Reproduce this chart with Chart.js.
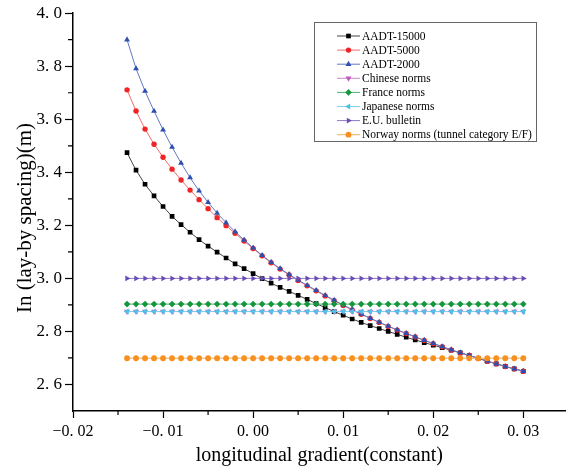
<!DOCTYPE html>
<html>
<head>
<meta charset="utf-8">
<script src="https://cdn.jsdelivr.net/npm/chart.js@4.4.0/dist/chart.umd.min.js"></script>
<style>
  html, body { margin: 0; padding: 0; background: #fff; }
  #wrap { width: 569px; height: 473px; position: relative; }
</style>
</head>
<body>
<div id="wrap"><canvas id="chart"></canvas></div>
<script>
// longitudinal gradient values (x)
const gradient = [
  -0.014, -0.013, -0.012, -0.011, -0.010, -0.009, -0.008, -0.007, -0.006, -0.005,
  -0.004, -0.003, -0.002, -0.001, 0.000, 0.001, 0.002, 0.003, 0.004, 0.005,
  0.006, 0.007, 0.008, 0.009, 0.010, 0.011, 0.012, 0.013, 0.014, 0.015,
  0.016, 0.017, 0.018, 0.019, 0.020, 0.021, 0.022, 0.023, 0.024, 0.025,
  0.026, 0.027, 0.028, 0.029, 0.030
];

const aadt15000 = [
  3.474, 3.408, 3.355, 3.311, 3.271, 3.234, 3.203, 3.174, 3.146, 3.122,
  3.099, 3.077, 3.055, 3.037, 3.018, 2.999, 2.982, 2.966, 2.951, 2.936,
  2.921, 2.905, 2.890, 2.875, 2.861, 2.847, 2.834, 2.822, 2.811, 2.800,
  2.789, 2.778, 2.768, 2.758, 2.748, 2.739, 2.729, 2.719, 2.709, 2.699,
  2.688, 2.678, 2.668, 2.659, 2.650
];

const aadt5000 = [
  3.711, 3.631, 3.563, 3.506, 3.457, 3.412, 3.371, 3.333, 3.297, 3.263,
  3.229, 3.199, 3.170, 3.141, 3.113, 3.085, 3.059, 3.035, 3.013, 2.992,
  2.972, 2.953, 2.934, 2.916, 2.898, 2.881, 2.865, 2.849, 2.834, 2.819,
  2.805, 2.792, 2.779, 2.766, 2.754, 2.742, 2.730, 2.719, 2.709, 2.698,
  2.688, 2.678, 2.668, 2.659, 2.650
];

const aadt2000 = [
  3.900, 3.791, 3.706, 3.631, 3.560, 3.495, 3.435, 3.380, 3.330, 3.287,
  3.246, 3.210, 3.176, 3.145, 3.115, 3.087, 3.061, 3.037, 3.015, 2.994,
  2.974, 2.955, 2.936, 2.918, 2.900, 2.883, 2.866, 2.850, 2.835, 2.820,
  2.806, 2.793, 2.780, 2.767, 2.755, 2.743, 2.731, 2.720, 2.710, 2.699,
  2.688, 2.678, 2.668, 2.659, 2.650
];

// norm levels (constant over the gradient range)
const chineseNorm = 2.875;
const franceNorm = 2.903;
const japaneseNorm = 2.875;
const euBulletin = 3.000;
const norwayNorm = 2.699;

const xTicks = [-0.02, -0.01, 0.00, 0.01, 0.02, 0.03];
const xTickLabels = ['\u22120. 02', '\u22120. 01', '0. 00', '0. 01', '0. 02', '0. 03'];
const xMinorTicks = [-0.015, -0.005, 0.005, 0.015, 0.025];
const yTicks = [2.6, 2.8, 3.0, 3.2, 3.4, 3.6, 3.8, 4.0];
const yTickLabels = ['2. 6', '2. 8', '3. 0', '3. 2', '3. 4', '3. 6', '3. 8', '4. 0'];
const yMinorTicks = [2.7, 2.9, 3.1, 3.3, 3.5, 3.7, 3.9];

const pts = ys => gradient.map((x, i) => ({ x: x, y: ys[i] }));
const flat = v => gradient.map(x => ({ x: x, y: v }));

Chart.defaults.font.family = '"Liberation Serif", "Times New Roman", serif';
Chart.defaults.color = '#000';

function series(label, data, color, lineColor, style, rot, radius, order) {
  return {
    label: label,
    data: data,
    showLine: true,
    borderColor: lineColor,
    backgroundColor: color,
    pointBackgroundColor: color,
    pointBorderColor: color,
    pointBorderWidth: 0,
    borderWidth: 1,
    pointStyle: style,
    pointRotation: rot,
    pointRadius: radius,
    pointHoverRadius: radius,
    order: order
  };
}

// minor ticks on both axes
const minorTicks = {
  id: 'minorTicks',
  afterDraw(chart) {
    const ctx = chart.ctx;
    const xs = chart.scales.x, ys = chart.scales.y;
    ctx.save();
    ctx.strokeStyle = '#000';
    ctx.lineWidth = 1.2;
    ctx.beginPath();
    xMinorTicks.forEach(v => {
      const px = xs.getPixelForValue(v);
      ctx.moveTo(px, xs.top);
      ctx.lineTo(px, xs.top + 4);
    });
    yMinorTicks.forEach(v => {
      const py = ys.getPixelForValue(v);
      ctx.moveTo(ys.right, py);
      ctx.lineTo(ys.right - 5, py);
    });
    ctx.stroke();
    ctx.restore();
  }
};

// y axis title
const yTitle = {
  id: 'yTitle',
  afterDraw(chart) {
    const ctx = chart.ctx;
    ctx.save();
    ctx.translate(25, 218);
    ctx.rotate(-Math.PI / 2);
    ctx.font = '21px "Liberation Serif", serif';
    ctx.fillStyle = '#000';
    ctx.textAlign = 'center';
    ctx.textBaseline = 'middle';
    ctx.fillText('In (lay-by spacing)(m)', 0, 0);
    ctx.restore();
  }
};

// boxed legend in the upper right
const boxLegend = {
  id: 'boxLegend',
  afterDraw(chart) {
    const ctx = chart.ctx;
    ctx.save();
    ctx.fillStyle = '#fff';
    ctx.fillRect(314.5, 22.5, 222, 119);
    ctx.strokeStyle = '#666';
    ctx.lineWidth = 1;
    ctx.strokeRect(314.5, 22.5, 222, 119);
    ctx.font = '11.5px "Liberation Serif", serif';
    ctx.textBaseline = 'middle';
    chart.data.datasets.forEach((ds, i) => {
      const y = 36 + i * 14.1;
      ctx.strokeStyle = ds.borderColor;
      ctx.lineWidth = 1;
      ctx.beginPath();
      ctx.moveTo(337, y);
      ctx.lineTo(360, y);
      ctx.stroke();
      ctx.fillStyle = ds.pointBackgroundColor;
      Chart.helpers.drawPoint(ctx, {
        pointStyle: ds.pointStyle,
        rotation: ds.pointRotation,
        radius: ds.pointRadius,
        borderWidth: 0
      }, 348.5, y);
      ctx.fillStyle = '#000';
      ctx.fillText(ds.label, 362, y + 0.5);
    });
    ctx.restore();
  }
};

new Chart(document.getElementById('chart'), {
  type: 'scatter',
  data: {
    datasets: [
      series('AADT-15000', pts(aadt15000), '#000000', '#444444', 'rect', 0, 3.3, 8),
      series('AADT-5000', pts(aadt5000), '#f02424', '#f26a6a', 'circle', 0, 2.7, 7),
      series('AADT-2000', pts(aadt2000), '#2f4fae', '#6079c6', 'triangle', 0, 3.4, 6),
      series('Chinese norms', flat(chineseNorm), '#c05ac0', '#cf86cf', 'triangle', 180, 3.4, 5),
      series('France norms', flat(franceNorm), '#16963c', '#4db26a', 'rectRot', 0, 3.3, 4),
      series('Japanese norms', flat(japaneseNorm), '#4fc0e6', '#7fd2ee', 'triangle', -90, 3.4, 3),
      series('E.U. bulletin', flat(euBulletin), '#6a4cb4', '#8f78c8', 'triangle', 90, 3.4, 2),
      series('Norway norms (tunnel category E/F)', flat(norwayNorm), '#f7901e', '#f9ae5c', 'circle', 0, 2.9, 1)
    ]
  },
  options: {
    responsive: true,
    maintainAspectRatio: false,
    animation: false,
    devicePixelRatio: 1,
    layout: { padding: { top: 13, right: 0, left: 0, bottom: 0 } },
    plugins: {
      legend: { display: false },
      tooltip: { enabled: false }
    },
    scales: {
      x: {
        type: 'linear',
        min: -0.02,
        max: 0.0347,
        afterBuildTicks: s => { s.ticks = xTicks.map(v => ({ value: v })); },
        afterFit: s => { s.height = 62; },
        ticks: {
          callback: (v, i) => xTickLabels[i],
          font: { size: 16 },
          color: '#000',
          padding: 4,
          maxRotation: 0,
          autoSkip: false
        },
        grid: { drawOnChartArea: false, drawTicks: true, tickLength: 7, tickColor: '#000', tickWidth: 1.2 },
        border: { display: true, color: '#000', width: 1.5 },
        title: {
          display: true,
          text: 'longitudinal gradient(constant)',
          font: { size: 20 },
          color: '#000',
          padding: { top: 0, bottom: 5 }
        }
      },
      y: {
        min: 2.5,
        max: 4.0,
        afterBuildTicks: s => { s.ticks = yTicks.map(v => ({ value: v })); },
        afterFit: s => { s.width = 73; },
        ticks: {
          callback: (v, i) => yTickLabels[i],
          font: { size: 17 },
          color: '#000',
          padding: 3,
          autoSkip: false
        },
        grid: { drawOnChartArea: false, drawTicks: true, tickLength: 8, tickColor: '#000', tickWidth: 1.2 },
        border: { display: true, color: '#000', width: 1.5 }
      }
    }
  },
  plugins: [minorTicks, yTitle, boxLegend]
});
</script>
</body>
</html>
